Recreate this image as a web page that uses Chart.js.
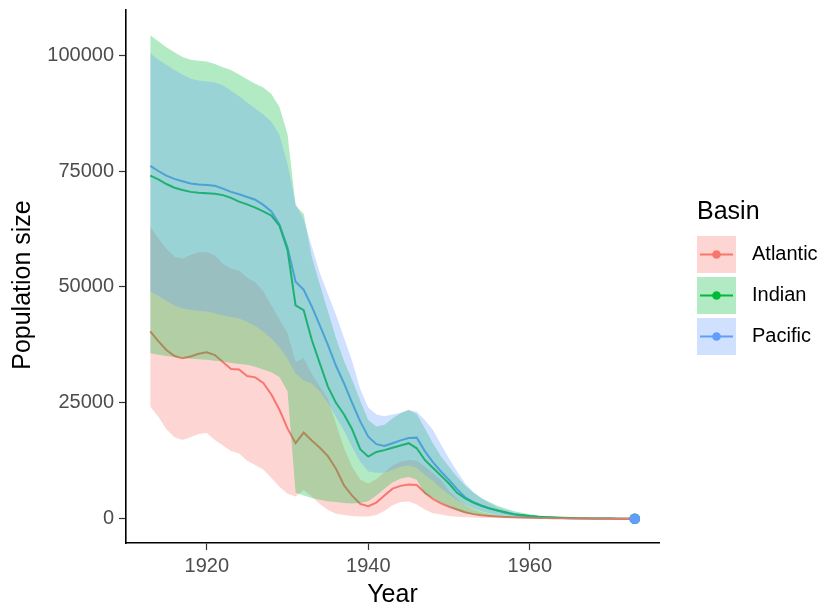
<!DOCTYPE html>
<html>
<head>
<meta charset="utf-8">
<script src="https://cdn.jsdelivr.net/npm/chart.js@4.4.1/dist/chart.umd.min.js"></script>
<style>
  html, body { margin: 0; padding: 0; background: #fff; }
  #wrap { width: 821px; height: 604px; }
</style>
</head>
<body>
<div id="wrap"><canvas id="popChart" width="821" height="604"></canvas></div>
<script>
// Yearly population estimates per basin, in thousands
const years = [
  1913, 1914, 1915, 1916, 1917, 1918, 1919, 1920, 1921, 1922,
  1923, 1924, 1925, 1926, 1927, 1928, 1929, 1930, 1931, 1932,
  1933, 1934, 1935, 1936, 1937, 1938, 1939, 1940, 1941, 1942,
  1943, 1944, 1945, 1946, 1947, 1948, 1949, 1950, 1951, 1952,
  1953, 1954, 1955, 1956, 1957, 1958, 1959, 1960, 1961, 1962,
  1963, 1964, 1965, 1966, 1967, 1968, 1969, 1970, 1971, 1972, 1973,
];

const atlanticMid = [
  40.4, 38.3, 36.4, 35.1, 34.6, 35.0, 35.6, 35.9, 35.3, 33.8,
  32.3, 32.2, 30.8, 30.5, 29.3, 26.8, 23.5, 19.5, 16.3, 18.6,
  16.9, 15.3, 13.5, 10.8, 7.2, 5.0, 3.2, 2.7, 3.5, 5.0,
  6.5, 7.1, 7.4, 7.3, 5.6, 4.3, 3.3, 2.6, 2.0, 1.4,
  1.0, 0.75, 0.6, 0.48, 0.4, 0.33, 0.27, 0.22, 0.18, 0.14,
  0.11, 0.09, 0.07, 0.06, 0.05, 0.04, 0.03, 0.02, 0.015, 0.01, 0,
];
const atlanticLo = [
  24.2, 22.0, 19.3, 17.6, 17.0, 17.6, 18.3, 18.5, 17.0, 15.8,
  14.6, 14.1, 12.5, 11.6, 10.6, 8.8, 6.9, 5.4, 4.8, 6.2,
  4.8, 3.2, 1.9, 1.1, 0.8, 0.6, 0.5, 0.5, 0.8, 1.7,
  2.9, 3.6, 3.7, 3.1, 2.0, 1.2, 0.9, 0.6, 0.45, 0.35,
  0.28, 0.22, 0.18, 0.15, 0.12, 0.1, 0.08, 0.06, 0.05, 0.04,
  0.03, 0.03, 0.02, 0.02, 0.01, 0.01, 0.01, 0, 0, 0, 0,
];
const atlanticHi = [
  63.0, 60.5, 58.2, 56.5, 56.1, 56.9, 57.5, 57.5, 56.8, 55.0,
  54.0, 53.5, 52.0, 51.0, 49.0, 46.0, 43.0, 40.0, 33.8, 34.6,
  31.2, 28.5, 25.8, 20.5, 15.2, 11.2, 8.4, 7.6, 8.5, 10.0,
  11.5, 12.3, 12.7, 12.5, 11.3, 9.8, 8.3, 6.0, 4.3, 2.9,
  2.0, 1.4, 1.0, 0.8, 0.62, 0.5, 0.4, 0.32, 0.26, 0.21,
  0.17, 0.14, 0.11, 0.09, 0.07, 0.05, 0.04, 0.03, 0.02, 0.01, 0,
];

const indianMid = [
  74.0, 73.2, 72.2, 71.4, 70.9, 70.5, 70.3, 70.2, 70.1, 69.8,
  69.2, 68.4, 67.8, 67.1, 66.3, 65.4, 63.2, 58.0, 46.0, 45.0,
  38.6, 33.5, 28.5, 25.0, 22.5, 19.3, 15.0, 13.4, 14.4, 14.8,
  15.3, 15.8, 16.3, 15.2, 12.7, 11.0, 9.3, 7.6, 5.6, 4.4,
  3.5, 2.8, 2.2, 1.8, 1.4, 1.0, 0.8, 0.6, 0.45, 0.35,
  0.27, 0.2, 0.15, 0.12, 0.09, 0.07, 0.05, 0.04, 0.03, 0.02, 0,
];
const indianLo = [
  35.7, 35.4, 35.1, 34.9, 34.7, 34.5, 34.4, 34.3, 34.1, 33.9,
  33.6, 33.4, 33.2, 32.8, 32.2, 31.6, 30.6, 27.5, 5.6, 5.0,
  4.5, 4.1, 3.8, 3.6, 3.4, 3.3, 3.4, 3.8, 5.0, 6.5,
  7.8, 8.7, 9.0, 8.4, 5.3, 4.6, 3.5, 2.7, 1.8, 1.2,
  0.9, 0.7, 0.55, 0.42, 0.33, 0.26, 0.2, 0.16, 0.12, 0.1,
  0.08, 0.06, 0.05, 0.04, 0.03, 0.02, 0.02, 0.01, 0.01, 0, 0,
];
const indianHi = [
  104.3, 103.0, 101.7, 100.6, 99.6, 99.0, 98.8, 98.6, 98.1, 97.4,
  96.8, 95.8, 94.8, 93.8, 93.0, 91.6, 88.8, 83.0, 67.5, 65.8,
  56.5, 50.5, 44.8, 39.0, 34.0, 30.0, 25.5, 21.3, 19.9, 20.3,
  21.6, 22.8, 23.5, 22.6, 19.5, 16.3, 13.5, 11.2, 9.0, 7.2,
  5.7, 4.5, 3.6, 2.8, 2.2, 1.7, 1.3, 1.0, 0.75, 0.56,
  0.42, 0.32, 0.24, 0.18, 0.13, 0.1, 0.07, 0.05, 0.03, 0.02, 0,
];

const pacificMid = [
  76.1, 75.0, 74.0, 73.3, 72.8, 72.3, 72.1, 72.0, 71.8, 71.2,
  70.5, 70.0, 69.4, 68.8, 67.7, 66.3, 63.5, 58.5, 51.1, 49.4,
  45.8, 41.7, 37.5, 33.0, 29.2, 25.0, 21.0, 17.7, 16.1, 15.7,
  16.3, 16.9, 17.4, 17.5, 14.6, 12.2, 10.2, 8.4, 6.4, 4.6,
  3.6, 2.9, 2.3, 1.8, 1.3, 0.95, 0.7, 0.52, 0.4, 0.3,
  0.22, 0.17, 0.13, 0.1, 0.08, 0.06, 0.05, 0.04, 0.03, 0.02, 0,
];
const pacificLo = [
  49.0, 48.1, 47.0, 46.0, 45.4, 45.0, 44.8, 44.7, 44.3, 43.9,
  43.5, 43.2, 42.5, 41.6, 40.4, 38.9, 37.0, 34.5, 31.4, 29.8,
  29.2, 27.5, 25.0, 22.0, 19.0, 15.5, 12.3, 10.2, 9.9, 9.9,
  10.5, 11.2, 11.5, 11.0, 9.5, 8.2, 6.6, 5.3, 4.0, 3.0,
  2.2, 1.6, 1.2, 0.9, 0.68, 0.5, 0.38, 0.29, 0.22, 0.17,
  0.13, 0.1, 0.08, 0.06, 0.05, 0.04, 0.03, 0.02, 0.01, 0.01, 0,
];
const pacificHi = [
  100.4, 99.0, 97.9, 96.8, 95.8, 94.9, 94.5, 94.3, 94.1, 93.5,
  92.3, 91.1, 89.8, 88.5, 87.2, 85.6, 82.8, 76.5, 68.0, 64.5,
  58.8, 53.0, 48.5, 44.0, 39.0, 34.0, 28.0, 24.0, 22.5, 22.1,
  22.5, 22.8, 23.4, 23.1, 21.3, 19.2, 16.0, 13.0, 10.2, 7.6,
  5.7, 4.4, 3.4, 2.5, 1.9, 1.4, 1.0, 0.72, 0.52, 0.38,
  0.28, 0.2, 0.15, 0.11, 0.08, 0.06, 0.04, 0.03, 0.02, 0.01, 0,
];

const basins = ["Atlantic", "Indian", "Pacific"];
const basinColors = ["#F8766D", "#00BA38", "#619CFF"];
const yTicks = [0, 25000, 50000, 75000, 100000];
const xTicks = [1920, 1940, 1960];

const UNIT = 1000;
const FONT = "'Liberation Sans', Arial, sans-serif";

function toPoints(values) {
  return values.map((v, i) => ({ x: years[i], y: v * UNIT }));
}

function withAlpha(hex, a) {
  const n = parseInt(hex.slice(1), 16);
  return `rgba(${(n >> 16) & 255}, ${(n >> 8) & 255}, ${n & 255}, ${a})`;
}

const basinData = [
  { mid: atlanticMid, lo: atlanticLo, hi: atlanticHi },
  { mid: indianMid, lo: indianLo, hi: indianHi },
  { mid: pacificMid, lo: pacificLo, hi: pacificHi },
];

const datasets = [];

// median lines sit underneath the ribbons
basinData.forEach((b, i) => {
  datasets.push({
    label: basins[i],
    data: toPoints(b.mid),
    borderColor: basinColors[i],
    borderWidth: 2,
    pointRadius: 0,
    fill: false,
    order: 20,
  });
});

// ribbons: upper bound fills down to the lower bound dataset
basinData.forEach((b, i) => {
  const hiIndex = datasets.length;
  datasets.push({
    label: basins[i] + " upper",
    data: toPoints(b.hi),
    borderWidth: 0,
    pointRadius: 0,
    backgroundColor: withAlpha(basinColors[i], 0.3),
    fill: hiIndex + 1,
    order: 10 - i,
  });
  datasets.push({
    label: basins[i] + " lower",
    data: toPoints(b.lo),
    borderWidth: 0,
    pointRadius: 0,
    fill: false,
    order: 10 - i,
  });
});

// final-year point per basin
basinData.forEach((b, i) => {
  const last = years.length - 1;
  datasets.push({
    type: "scatter",
    label: basins[i] + " last",
    data: [{ x: years[last], y: b.mid[last] * UNIT }],
    backgroundColor: basinColors[i],
    borderWidth: 0,
    pointRadius: 5.3,
    order: 3 - i,
  });
});

// y title and the Basin key are drawn by hand
const basinLegend = {
  id: "basinLegend",
  afterDraw(chart) {
    const ctx = chart.ctx;
    ctx.save();
    ctx.fillStyle = "#000";
    ctx.font = "25px " + FONT;

    ctx.save();
    ctx.translate(23, 285);
    ctx.rotate(-Math.PI / 2);
    ctx.textAlign = "center";
    ctx.textBaseline = "middle";
    ctx.fillText("Population size", 0, 0);
    ctx.restore();

    ctx.textBaseline = "alphabetic";
    ctx.textAlign = "left";
    ctx.fillText("Basin", 697, 219);
    basins.forEach((name, i) => {
      const x = 697, y = 236 + i * 41, w = 39, h = 37;
      const cy = y + h / 2;
      ctx.fillStyle = withAlpha(basinColors[i], 0.3);
      ctx.fillRect(x, y, w, h);
      ctx.strokeStyle = basinColors[i];
      ctx.lineWidth = 2;
      ctx.beginPath();
      ctx.moveTo(x + 3, cy);
      ctx.lineTo(x + w - 3, cy);
      ctx.stroke();
      ctx.fillStyle = basinColors[i];
      ctx.beginPath();
      ctx.arc(x + w / 2, cy, 4.3, 0, Math.PI * 2);
      ctx.fill();
      ctx.fillStyle = "#000";
      ctx.font = "20px " + FONT;
      ctx.textBaseline = "middle";
      ctx.fillText(name, 752, cy);
    });
    ctx.restore();
  },
};

new Chart(document.getElementById("popChart"), {
  type: "line",
  data: { datasets },
  plugins: [basinLegend],
  options: {
    responsive: false,
    animation: false,
    events: [],
    layout: { padding: { left: 0, right: 162, top: 10, bottom: 0 } },
    elements: { line: { tension: 0 } },
    plugins: {
      legend: { display: false },
      tooltip: { enabled: false },
    },
    scales: {
      x: {
        type: "linear",
        min: 1910,
        max: 1976,
        afterBuildTicks: (scale) => {
          scale.ticks = xTicks.map((v) => ({ value: v }));
        },
        afterFit: (scale) => {
          scale.height = 61;
          scale.paddingLeft = 0;
          scale.paddingRight = 0;
        },
        ticks: {
          color: "#4D4D4D",
          font: { family: FONT, size: 20 },
          padding: 4,
          maxRotation: 0,
          callback: (v) => String(v),
        },
        grid: {
          drawOnChartArea: false,
          drawTicks: true,
          tickLength: 7,
          tickColor: "#333333",
          tickWidth: 1.2,
        },
        border: { display: true, color: "#000", width: 1.6 },
        title: {
          display: true,
          text: "Year",
          color: "#000",
          font: { family: FONT, size: 25, lineHeight: 1 },
          padding: { top: 0, bottom: -3.5 },
        },
      },
      y: {
        type: "linear",
        min: -5225,
        max: 109725,
        afterBuildTicks: (scale) => {
          scale.ticks = yTicks.map((v) => ({ value: v }));
        },
        afterFit: (scale) => {
          scale.width = 126;
          scale.paddingTop = 0;
          scale.paddingBottom = 0;
        },
        ticks: {
          color: "#4D4D4D",
          font: { family: FONT, size: 20 },
          padding: 5,
          callback: (v) => String(v),
        },
        grid: {
          drawOnChartArea: false,
          drawTicks: true,
          tickLength: 7,
          tickColor: "#333333",
          tickWidth: 1.2,
        },
        border: { display: true, color: "#000", width: 1.6 },
      },
    },
  },
});
</script>
</body>
</html>
